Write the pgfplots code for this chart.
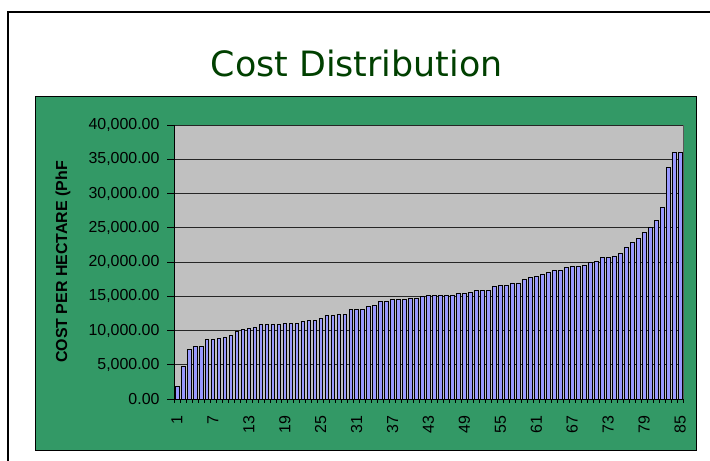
\documentclass[border=0pt]{standalone}
\usepackage{pgfplots}
\usepackage{pgfplotstable}
\pgfplotsset{compat=1.18}
\usepackage{fontspec}
\setmainfont{Liberation Sans}
\newfontfamily\titlefont{DejaVu Sans}
\definecolor{panelgreen}{RGB}{51,153,102}
\definecolor{barblue}{RGB}{153,153,255}
\definecolor{plotgray}{RGB}{192,192,192}
\definecolor{titlegreen}{RGB}{0,64,0}
\pgfplotstableread{
x y
1 1850
2 4760
3 7190
4 7730
5 7730
6 8650
7 8650
8 8850
9 9040
10 9230
11 9870
12 10160
13 10300
14 10500
15 10890
16 10890
17 10890
18 10890
19 11080
20 11080
21 11080
22 11280
23 11470
24 11470
25 11810
26 12150
27 12150
28 12350
29 12350
30 13120
31 13120
32 13120
33 13460
34 13660
35 14190
36 14190
37 14580
38 14580
39 14580
40 14730
41 14730
42 14970
43 15120
44 15160
45 15120
46 15120
47 15160
48 15360
49 15360
50 15550
51 15840
52 15840
53 15840
54 16430
55 16620
56 16620
57 16960
58 16960
59 17490
60 17740
61 17930
62 18270
63 18470
64 18810
65 18810
66 19200
67 19390
68 19390
69 19580
70 19920
71 20120
72 20700
73 20700
74 20900
75 21240
76 22210
77 22890
78 23470
79 24350
80 25080
81 26100
82 27940
83 33820
84 36010
85 36010
}\costdata
\begin{document}
\begin{tikzpicture}[x=1bp,y=1bp]
\fill[white] (0,0) rectangle (710,461);
\draw[line width=1.3bp] (8,-5) -- (8,449) -- (715,449);
\filldraw[fill=panelgreen, draw=black, line width=0.8bp] (35,11) rectangle (696,365);
\node[anchor=base, text=titlegreen, font=\titlefont\fontsize{35}{35}\selectfont, inner sep=0pt] at (356.7,384.3) {Cost Distribution};
\begin{axis}[
  at={(174bp,62bp)}, anchor=south west,
  scale only axis, width=509bp, height=274bp,
  xmin=0.5, xmax=85.5, ymin=0, ymax=40000,
  ybar, bar width=0.62,
  axis x line*=bottom, axis y line*=left,
  axis line style={-, black, line width=0.8bp},
  axis background/.style={fill=plotgray, draw=gray!70!black, line width=0.8bp},
  tick align=outside,
  xtick={1,7,...,85},
  minor xtick={0.5,1.5,...,85.5},
  major x tick style={draw=none},
  minor x tick style={black, line width=0.6bp},
  y tick style={black, line width=0.8bp},
  minor tick length=4bp, major tick length=7bp,
  ytick={0,5000,...,40000},
  scaled y ticks=false,
  ymajorgrids,
  major grid style={black!85, line width=0.7bp},
  yticklabel shift=4bp,
  xticklabel shift=6bp,
  yticklabel style={font=\fontsize{16}{16}\selectfont, /pgf/number format/.cd, fixed, fixed zerofill, precision=2, 1000 sep={,}, assume math mode=true},
  xticklabel style={rotate=90, anchor=east, font=\fontsize{16}{16}\selectfont, /pgf/number format/assume math mode=true},
  ylabel={COST PER HECTARE (PhF},
  ylabel style={font=\bfseries\fontsize{16}{16}\selectfont, at={(axis description cs:-0.218,0.5)}, anchor=center},
]
\addplot[fill=barblue, draw=black, line width=0.6bp] table[x=x, y=y] {\costdata};
\end{axis}
\pgfresetboundingbox
\useasboundingbox (0,0) rectangle (710,461);
\end{tikzpicture}
\end{document}
